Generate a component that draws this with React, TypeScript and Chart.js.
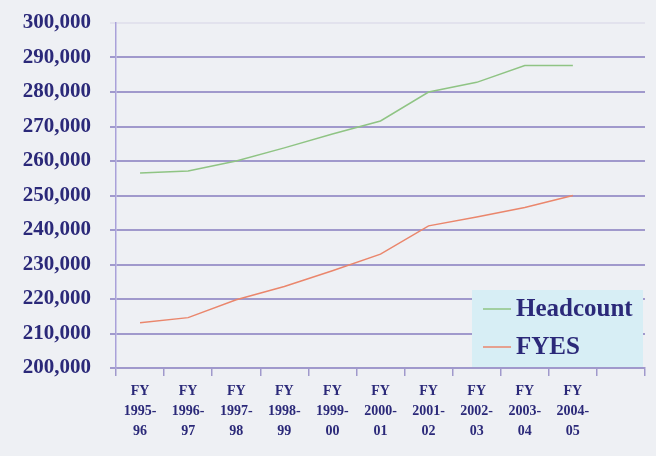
import React, { useEffect, useRef } from "react";
import { Chart, registerables } from "chart.js";

Chart.register(...registerables);

const fiscalYears = ["1995-96", "1996-97", "1997-98", "1998-99", "1999-00", "2000-01", "2001-02", "2002-03", "2003-04", "2004-05", ""];
const headcount = [256500, 257100, 260000, 263800, 267800, 271600, 280000, 282800, 287700, 287700, null];
const fyes = [213100, 214600, 219800, 223600, 228200, 233000, 241200, 243800, 246500, 250000, null];
const seriesNames = ["Headcount", "FYES"];
const yMin = 200000;
const yMax = 300000;
const yStep = 10000;

const NAVY = "#2b2979";
const GRID = "#a099cc";
const GREEN = "#8fc484";
const RED = "#ea866c";
const SERIF = "'Liberation Serif', 'Times New Roman', serif";

const legendPlugin = {
  id: "boxLegend",
  afterDatasetsDraw(chart: any) {
    const ctx = chart.ctx;
    const x0 = 472, y0 = 290, w = 171, h = 77;
    ctx.save();
    ctx.fillStyle = "#d7eef5";
    ctx.fillRect(x0, y0, w, h);
    const entries = [
      { name: seriesNames[0], color: GREEN, y: 309 },
      { name: seriesNames[1], color: RED, y: 347 },
    ];
    ctx.font = `bold 25px ${SERIF}`;
    ctx.textBaseline = "middle";
    ctx.textAlign = "left";
    for (const e of entries) {
      ctx.strokeStyle = e.color;
      ctx.lineWidth = 1.5;
      ctx.beginPath();
      ctx.moveTo(483, e.y);
      ctx.lineTo(511, e.y);
      ctx.stroke();
      ctx.fillStyle = NAVY;
      ctx.fillText(e.name, 516, e.y + 1);
    }
    ctx.restore();
  },
};

const bgPlugin = {
  id: "bg",
  beforeDraw(chart: any) {
    const ctx = chart.ctx;
    ctx.save();
    ctx.fillStyle = "#eef0f4";
    ctx.fillRect(0, 0, chart.width, chart.height);
    ctx.restore();
  },
};

export default function App() {
  const ref = useRef<HTMLCanvasElement>(null);
  useEffect(() => {
    if (!ref.current) return;
    const labels = fiscalYears.map((fy) => {
      if (!fy) return "";
      const [a, b] = fy.split("-");
      return ["FY", a + "-", b];
    });
    const chart = new Chart(ref.current, {
      type: "line",
      data: {
        labels,
        datasets: [
          { label: seriesNames[0], data: headcount, borderColor: GREEN, backgroundColor: GREEN, borderWidth: 1.5, pointRadius: 0, tension: 0 },
          { label: seriesNames[1], data: fyes, borderColor: RED, backgroundColor: RED, borderWidth: 1.5, pointRadius: 0, tension: 0 },
        ],
      },
      options: {
        animation: false,
        responsive: false,
        maintainAspectRatio: false,
        layout: { padding: { left: 0, right: 11, top: 23, bottom: 0 }, autoPadding: false },
        plugins: { legend: { display: false }, tooltip: { enabled: false } },
        scales: {
          x: {
            offset: true,
            grid: { offset: true, drawOnChartArea: false, drawTicks: true, tickLength: 8, color: GRID, lineWidth: 1.5 },
            border: { display: true, color: GRID, width: 1.5 },
            ticks: {
              color: NAVY,
              font: { family: SERIF, size: 14, weight: "bold", lineHeight: 1.4 },
              padding: 6,
              maxRotation: 0,
              autoSkip: false,
            },
            afterFit(scale: any) {
              scale.height = 88;
              scale.paddingLeft = 0;
              scale.paddingRight = 0;
            },
          },
          y: {
            min: yMin,
            max: yMax,
            grid: {
              color: (c: any) => (c.tick && c.tick.value === yMax ? "rgba(158,150,201,0.15)" : GRID),
              lineWidth: 2,
              tickLength: 6,
              drawTicks: true,
            },
            border: { display: true, color: "#a9a1d9", width: 1.5 },
            ticks: {
              stepSize: yStep,
              color: NAVY,
              padding: 19,
              font: { family: SERIF, size: 21, weight: "bold" },
              callback: (v: any) => Number(v).toLocaleString("en-US"),
            },
            afterFit(scale: any) {
              scale.width = 116;
              scale.paddingTop = 0;
              scale.paddingBottom = 0;
            },
          },
        },
      },
      plugins: [bgPlugin, legendPlugin],
    });
    return () => chart.destroy();
  }, []);
  return (
    <div style={{ position: "fixed", left: 0, top: 0, width: 656, height: 456 }}>
      <canvas ref={ref} width={656} height={456} style={{ width: 656, height: 456 }} />
    </div>
  );
}
